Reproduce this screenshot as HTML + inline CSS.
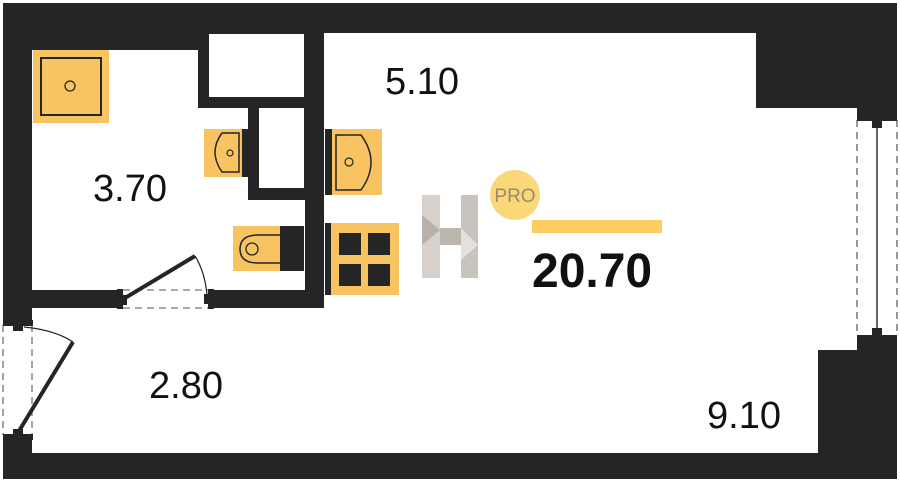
<!DOCTYPE html>
<html><head><meta charset="utf-8"><style>
html,body{margin:0;padding:0;background:#fff;}
svg{display:block;}
text{font-family:"Liberation Sans",sans-serif;}
</style></head><body>
<svg width="900" height="482" viewBox="0 0 900 482" xmlns="http://www.w3.org/2000/svg">
<rect x="0" y="0" width="900" height="482" fill="#fff"/>
<rect x="3" y="3" width="894" height="476" fill="#252525"/>
<!-- bathroom -->
<polygon points="32,50 198,50 198,108 248,108 248,200 305,200 305,290 32,290" fill="#fff"/>
<rect x="209" y="34" width="95" height="63" fill="#fff"/>
<rect x="259" y="108" width="45" height="80" fill="#fff"/>
<!-- main + hallway -->
<polygon points="324,33 756,33 756,108 857,108 857,350 818,350 818,453 32,453 32,308 324,308" fill="#fff"/>
<!-- window -->
<rect x="857" y="115" width="40" height="225" fill="#fff"/>
<line x1="857" y1="120" x2="857" y2="336" stroke="#555" stroke-width="1.2" stroke-dasharray="7,5"/>
<line x1="897" y1="120" x2="897" y2="336" stroke="#555" stroke-width="1.2" stroke-dasharray="7,5"/>
<line x1="877" y1="122" x2="877" y2="334" stroke="#333" stroke-width="1.5"/>
<rect x="857" y="115" width="40" height="6" fill="#252525"/>
<rect x="872" y="121" width="10" height="7" fill="#252525"/>
<rect x="857" y="335" width="40" height="6" fill="#252525"/>
<rect x="872" y="328" width="10" height="7" fill="#252525"/>
<!-- entrance door -->
<rect x="3" y="322" width="29" height="115" fill="#fff"/>
<line x1="3" y1="325" x2="3" y2="435" stroke="#666" stroke-width="1.2" stroke-dasharray="7,5"/>
<line x1="32" y1="325" x2="32" y2="435" stroke="#666" stroke-width="1.2" stroke-dasharray="7,5"/>
<rect x="3" y="320" width="30" height="6" fill="#252525"/>
<rect x="13" y="326" width="10" height="5" fill="#252525"/>
<rect x="3" y="434" width="30" height="6" fill="#252525"/>
<rect x="13" y="429" width="10" height="5" fill="#252525"/>
<line x1="19" y1="431" x2="73" y2="342" stroke="#252525" stroke-width="4"/>
<path d="M24,327 Q55,330 73,342" fill="none" stroke="#252525" stroke-width="1.2"/>
<!-- bathroom door -->
<rect x="117" y="290" width="97" height="18" fill="#fff"/>
<line x1="123" y1="290" x2="208" y2="290" stroke="#777" stroke-width="1.2" stroke-dasharray="7,5"/>
<line x1="123" y1="308" x2="208" y2="308" stroke="#777" stroke-width="1.2" stroke-dasharray="7,5"/>
<rect x="117" y="289" width="6" height="20" fill="#252525"/>
<rect x="123" y="295" width="4" height="10" fill="#252525"/>
<rect x="208" y="289" width="6" height="20" fill="#252525"/>
<rect x="204" y="294" width="4" height="10" fill="#252525"/>
<line x1="125" y1="298" x2="195" y2="256" stroke="#252525" stroke-width="4"/>
<path d="M195,256 Q205,272 207,295" fill="none" stroke="#252525" stroke-width="1.2"/>
<!-- shower -->
<rect x="33" y="50" width="76" height="73" fill="#f8c462"/>
<rect x="41" y="58" width="60" height="57" fill="none" stroke="#252525" stroke-width="2"/>
<circle cx="70" cy="86" r="5" fill="none" stroke="#252525" stroke-width="1.3"/>
<!-- small sink -->
<rect x="204" y="129" width="43" height="48" fill="#f8c462"/>
<rect x="242" y="129" width="6" height="48" fill="#252525"/>
<path d="M239,133 L222,133 Q208,152 222,172 L239,172 Z" fill="none" stroke="#252525" stroke-width="1.5"/>
<circle cx="230" cy="153" r="3" fill="none" stroke="#252525" stroke-width="1.2"/>
<!-- toilet -->
<rect x="233" y="226" width="48" height="45" fill="#f8c462"/>
<rect x="280" y="226" width="24" height="45" fill="#252525"/>
<path d="M280,235 L258,235 Q240,235 240,249 Q240,263 258,263 L280,263" fill="none" stroke="#252525" stroke-width="1.5"/>
<circle cx="252" cy="249" r="6" fill="none" stroke="#252525" stroke-width="1.3"/>
<!-- kitchen sink -->
<rect x="325" y="129" width="57" height="66" fill="#f8c462"/>
<rect x="325" y="129" width="7" height="66" fill="#252525"/>
<path d="M336,135 L361,135 Q381,162 361,190 L336,190 Z" fill="none" stroke="#252525" stroke-width="1.5"/>
<circle cx="349" cy="162" r="4" fill="none" stroke="#252525" stroke-width="1.2"/>
<!-- stove -->
<rect x="325" y="223" width="74" height="72" fill="#f8c462"/>
<rect x="325" y="223" width="6" height="72" fill="#252525"/>
<rect x="339" y="233" width="22" height="22" fill="#252525"/>
<rect x="368" y="233" width="22" height="22" fill="#252525"/>
<rect x="339" y="264" width="22" height="22" fill="#252525"/>
<rect x="368" y="264" width="22" height="22" fill="#252525"/>
<!-- H logo -->
<polygon points="422,195 440,195 440,278 422,278" fill="#d6d1cc"/>
<polygon points="461,195 478,195 478,278 461,278" fill="#c9c3bd"/>
<polygon points="440,228 461,228 461,245 440,245" fill="#bdb6af"/>
<polygon points="422,215 440,230 422,245" fill="#b8b1aa"/>
<polygon points="461,228 478,245 461,260" fill="#e4e0dc"/>
<!-- PRO -->
<circle cx="515" cy="195" r="25" fill="#fad87a"/>
<text x="515" y="202" font-size="19" fill="#9a8a70" text-anchor="middle">PRO</text>
<rect x="532" y="220" width="130" height="13" fill="#fbcd63"/>
<text x="532" y="287" font-size="48" font-weight="bold" fill="#111">20.70</text>
<!-- labels -->
<text x="385" y="94" font-size="38" fill="#111">5.10</text>
<text x="93" y="201" font-size="38" fill="#111">3.70</text>
<text x="149" y="398" font-size="38" fill="#111">2.80</text>
<text x="707" y="428" font-size="38" fill="#111">9.10</text>
</svg>
</body></html>
